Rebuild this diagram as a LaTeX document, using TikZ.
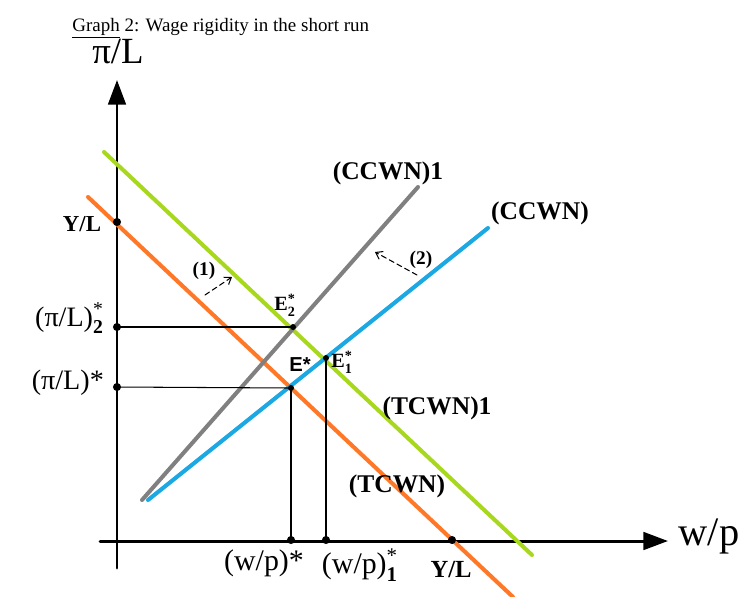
\documentclass[tikz,border=0pt]{standalone}
\usepackage{amsmath}
\usepackage{fontspec}
\setmainfont{Liberation Serif}
\setsansfont{Liberation Sans}
\usetikzlibrary{arrows.meta}
\definecolor{tcwncol}{RGB}{255,120,40}
\definecolor{tcwnonecol}{RGB}{168,216,30}
\definecolor{ccwncol}{RGB}{28,168,226}
\definecolor{ccwnonecol}{RGB}{128,128,128}
\newcommand{\fsz}[1]{\fontsize{#1}{#1}\selectfont}

\begin{document}
\begin{tikzpicture}[x=0.02cm,y=-0.02cm,line cap=round,
  axis/.style={line width=1.7pt},
  curve/.style={line width=2.3pt},
  guide/.style={line width=0.6pt},
  dot/.style={circle,fill=black,inner sep=0pt,minimum size=4.6pt},
  edot/.style={circle,fill=black,inner sep=0pt,minimum size=3.4pt},
  lbl/.style={inner sep=1pt,font=\fsz{14.5}\bfseries},
  shiftarrow/.style={densely dashed,line width=0.6pt,-{Straight Barb[length=3.5pt,width=5pt]}}]
\useasboundingbox (0,0) rectangle (746,596);
% title
\node[anchor=base west,inner sep=0pt,font=\fsz{10.8}] (title) at (72,31) {\underline{Graph} 2: Wage rigidity in the short run};
% axes
\draw[axis,-{Triangle[length=14pt,width=10pt]}] (117,568) -- (117,80);
\draw[axis,-{Triangle[length=14pt,width=10pt]}] (100,541) -- (668,541);
\node[font=\fsz{21}] (ylab) at (118,52) {π/L};
\node[font=\fsz{23}] (xlab) at (709,536) {w/p};
% curves
\draw[curve,tcwncol] (88,197) -- (513,597);
\draw[curve,tcwnonecol] (104,152) -- (532,555);
\draw[curve,ccwnonecol] (142,500) -- (418,187);
\draw[curve,ccwncol] (148,500) -- (488,228);
% equilibria
\coordinate (E2) at (293,327);
\coordinate (E) at (291,388);
\coordinate (E1) at (326,358);
\coordinate (pi2) at (117,327);
\coordinate (pi1) at (117,387);
\coordinate (yl) at (117,222);
\coordinate (wp) at (291,540);
\coordinate (wp1) at (326,540);
\coordinate (xl) at (452,540);
\draw[guide] (pi2) -- (E2);
\draw[guide] (pi1) -- (E);
\draw[guide] (E) -- (wp);
\draw[guide] (E1) -- (wp1);
\foreach \p in {yl,pi2,pi1,wp,wp1,xl} \node[dot] at (\p) {};
\foreach \p in {E2,E,E1} \node[edot] at (\p) {};
% axis labels
\node[lbl,font=\fsz{13}\bfseries] (ylv) at (82,224) {Y/L};
\node[anchor=east,font=\fsz{16}] (pi2lab) at (110,318) {(π/L)$^{\text{*}}_{\text{\bfseries 2}}$};
\node[anchor=east,font=\fsz{16}] (pi1lab) at (110,383) {(π/L)*};
\node[font=\fsz{17}] (wplab) at (264,563) {(w/p)*};
\node[font=\fsz{17}] (wp1lab) at (360,565) {(w/p)$^{\text{*}}_{\text{\bfseries 1}}$};
\node[lbl,font=\fsz{14}\bfseries] (xlv) at (451,570) {Y/L};
\node[lbl,font=\fsz{11.5}\bfseries] (E2lab) at (285,305) {E$^{\text{*}}_{\text{2}}$};
\node[lbl,font=\fsz{11.5}\bfseries\sffamily] (Elab) at (300,365) {E*};
\node[lbl,font=\fsz{11.5}\bfseries] (E1lab) at (342,362) {E$^{\text{*}}_{\text{1}}$};
% curve labels
\node[lbl] (ccwn1) at (388,173) {(CCWN)1};
\node[lbl] (ccwn) at (540,213) {(CCWN)};
\node[lbl] (tcwn1) at (437,408) {(TCWN)1};
\node[lbl] (tcwn) at (397,486) {(TCWN)};
% shifts
\node[lbl,font=\fsz{11}\bfseries] (s1) at (204,271) {(1)};
\node[lbl,font=\fsz{11}\bfseries] (s2) at (421,260) {(2)};
\coordinate (s1a) at (205,295);
\coordinate (s1b) at (232,277);
\coordinate (s2a) at (417,275);
\coordinate (s2b) at (375,252);
\draw[shiftarrow] (s1a) -- (s1b);
\draw[shiftarrow] (s2a) -- (s2b);
\end{tikzpicture}
\end{document}
